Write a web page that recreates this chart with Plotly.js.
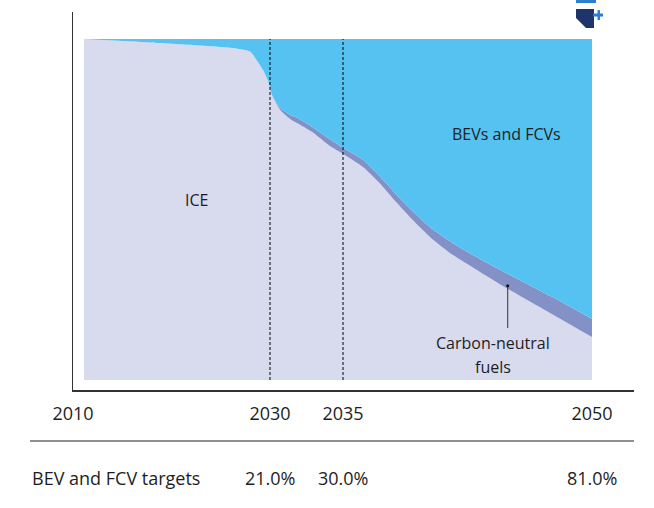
<!DOCTYPE html>
<html>
<head>
<meta charset="utf-8">
<script src="https://cdn.plot.ly/plotly-3.0.1.min.js"></script>
<style>
  html, body { margin: 0; padding: 0; background: #ffffff; }
  #chart { width: 654px; height: 508px; }
</style>
</head>
<body>
<div id="chart"></div>
<script>
// ---- Data ----
const years = [2010, 2017.1, 2022.5, 2025.7, 2027.85, 2028.5, 2029.25, 2029.8, 2030, 2030.2,
               2030.7, 2031.4, 2031.85, 2032.9, 2034.1, 2035, 2036.2, 2037.2, 2038.25, 2039.2,
               2040.25, 2041.6, 2043.25, 2045.05, 2047.5, 2050];
// share of new vehicles, %
const iceShare = [100, 99.0, 98.1, 97.4, 96.3, 94.1, 90.9, 87.7, 85.6, 83.0,
                  79.2, 76.5, 75.4, 72.7, 68.6, 66.3, 62.5, 57.8, 51.9, 46.9,
                  41.9, 36.7, 31.7, 26.4, 19.6, 12.6];
const carbonNeutralShare = [0, 0, 0, 0, 0, 0, 0, 0, 0, 0,
                  0.6, 1.2, 1.5, 1.5, 2.0, 1.8, 2.1, 2.0, 2.3, 2.6,
                  2.9, 3.5, 3.8, 4.4, 5.0, 5.3];
const bevFcvShare = [0, 1.0, 1.9, 2.6, 3.7, 5.9, 9.1, 12.3, 14.4, 17.0,
                  20.2, 22.3, 23.1, 25.8, 29.4, 31.9, 35.4, 40.2, 45.8, 50.5,
                  55.2, 59.8, 64.5, 69.2, 75.4, 82.1];

const tickYears = [2010, 2030, 2035, 2050];
const tickLabels = ['2010', '2030', '2035', '2050'];
const targetYears = [2030, 2035, 2050];
const targetValues = [21.0, 30.0, 81.0];
const targetRowLabel = 'BEV and FCV targets';
const markerYears = [2030, 2035];

// ---- Non-linear time scale used by the original graphic ----
const scaleYears = [2010, 2030, 2035, 2050];
const scaleUnits = [0, 186, 259, 508];
function warp(y) {
  for (let i = 0; i < scaleYears.length - 1; i++) {
    if (y <= scaleYears[i + 1] || i === scaleYears.length - 2) {
      const t = (y - scaleYears[i]) / (scaleYears[i + 1] - scaleYears[i]);
      return scaleUnits[i] + t * (scaleUnits[i + 1] - scaleUnits[i]);
    }
  }
}
const xs = years.map(warp);
const xRange = [-11, 550];

const FONT = '"Open Sans", "Noto Sans", sans-serif';
const TXT = '#1e1e1e';
const FS_IN = 16;   // labels inside the chart
const FS_OUT = 18;  // axis ticks and targets row

const traces = [
  { x: xs, y: iceShare, name: 'ICE', type: 'scatter', mode: 'lines', stackgroup: 'one',
    line: { width: 0, shape: 'spline', smoothing: 0.6 }, fillcolor: '#d8daee', hoverinfo: 'skip' },
  { x: xs, y: carbonNeutralShare, name: 'Carbon-neutral fuels', type: 'scatter', mode: 'lines', stackgroup: 'one',
    line: { width: 0, shape: 'spline', smoothing: 0.6 }, fillcolor: '#8391c6', hoverinfo: 'skip' },
  { x: xs, y: bevFcvShare, name: 'BEVs and FCVs', type: 'scatter', mode: 'lines', stackgroup: 'one',
    line: { width: 0, shape: 'spline', smoothing: 0.6 }, fillcolor: '#56c2f1', hoverinfo: 'skip' }
];

const tickVals = tickYears.map(warp);
tickVals[0] = xRange[0];

const shapes = [];
markerYears.forEach(yr => {
  shapes.push({ type: 'line', xref: 'x', yref: 'y', x0: warp(yr), x1: warp(yr), y0: 0, y1: 100,
    line: { color: '#000000', width: 1, dash: '3px,2px' }, layer: 'above' });
});
// divider above the targets row
shapes.push({ type: 'line', xref: 'paper', yref: 'paper', x0: -0.0766, x1: 1, y0: -0.1349, y1: -0.1349,
  line: { color: '#222222', width: 1.2 } });
// pointer for carbon-neutral fuels
shapes.push({ type: 'line', xref: 'paper', yref: 'paper', x0: 0.7749, x1: 0.7749, y0: 0.164, y1: 0.2759,
  line: { color: '#333333', width: 1 } });
shapes.push({ type: 'circle', xref: 'paper', yref: 'paper', x0: 0.7722, x1: 0.7776, y0: 0.2719, y1: 0.2799,
  fillcolor: '#111111', line: { width: 0 } });
// cropped logo fragment, top right
shapes.push({ type: 'rect', xref: 'paper', yref: 'paper', x0: 0.8966, x1: 0.9323, y0: 1.0238, y1: 1.0317,
  fillcolor: '#2c7fd0', line: { width: 0 } });
shapes.push({ type: 'path', xref: 'paper', yref: 'paper',
  path: 'M 0.8966 1.0079 L 0.9287 1.0079 L 0.9287 0.9577 L 0.9144 0.9577 L 0.8966 0.9841 Z',
  fillcolor: '#1f3468', line: { width: 0 } });
shapes.push({ type: 'rect', xref: 'paper', yref: 'paper', x0: 0.9269, x1: 0.9447, y0: 0.9880, y1: 0.9960,
  fillcolor: '#2c7fd0', line: { width: 0 } });
shapes.push({ type: 'rect', xref: 'paper', yref: 'paper', x0: 0.9350, x1: 0.9394, y0: 0.9788, y1: 1.0050,
  fillcolor: '#2c7fd0', line: { width: 0 } });

function label(text, x, y, size, extra) {
  return Object.assign({ text: text, xref: 'paper', yref: 'paper', x: x, y: y, showarrow: false,
    xanchor: 'center', yanchor: 'middle', font: { family: FONT, size: size, color: TXT } }, extra || {});
}
const annotations = [
  label('ICE', 0.2193, 0.5026, FS_IN),
  label('BEVs and FCVs', 0.7736, 0.6772, FS_IN),
  label('Carbon-neutral', 0.7478, 0.1243, FS_IN),
  label('fuels', 0.7478, 0.0608, FS_IN),
  label(targetRowLabel, -0.0766, -0.2328, FS_OUT, { xanchor: 'left' })
];
targetYears.forEach((yr, i) => {
  annotations.push(label(targetValues[i].toFixed(1) + '%', warp(yr), -0.2328, FS_OUT, { xref: 'x' }));
});

const layout = {
  width: 654, height: 508,
  margin: { l: 73, r: 20, t: 12, b: 118 },
  paper_bgcolor: '#ffffff', plot_bgcolor: '#ffffff',
  showlegend: false, hovermode: false,
  font: { family: FONT, size: FS_OUT, color: TXT },
  xaxis: { range: xRange, showgrid: false, zeroline: false, showline: true, linecolor: '#333333', linewidth: 1.5,
           tickmode: 'array', tickvals: tickVals, ticktext: tickLabels, ticks: '', ticklabelstandoff: 7,
           tickfont: { family: FONT, size: FS_OUT, color: TXT }, fixedrange: true },
  yaxis: { range: [-2.93, 107.92], showgrid: false, zeroline: false, showline: true, linecolor: '#333333', linewidth: 1.5,
           showticklabels: false, ticks: '', fixedrange: true },
  shapes: shapes,
  annotations: annotations
};

Plotly.newPlot('chart', traces, layout, { displayModeBar: false, staticPlot: true });
</script>
</body>
</html>
